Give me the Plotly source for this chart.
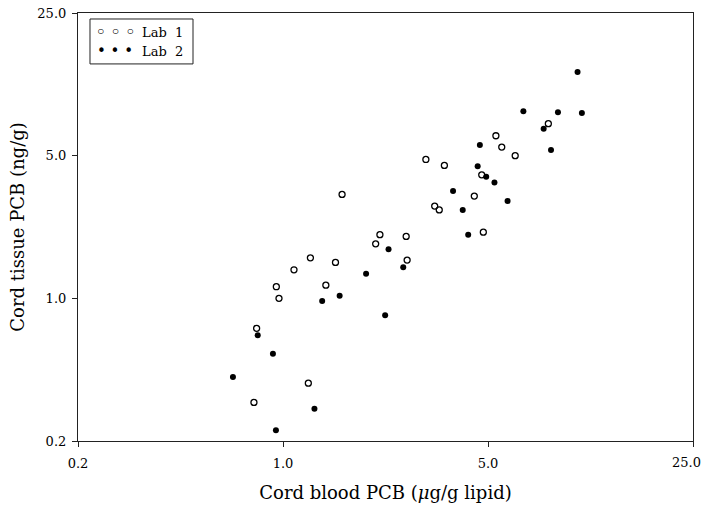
import math
import plotly.graph_objects as go

lab1_blood = [5.32, 5.57, 3.07, 3.55, 4.76, 1.59, 4.49, 3.29, 3.41, 4.82, 2.14, 2.63, 2.07,
              2.65, 1.24, 1.09, 1.51, 0.949, 1.40, 8.03, 6.19, 0.969, 0.813, 1.22, 0.796]
lab1_tissue = [6.26, 5.51, 4.79, 4.48, 4.03, 3.23, 3.17, 2.83, 2.71, 2.11, 2.05, 2.01, 1.85,
               1.54, 1.58, 1.38, 1.50, 1.14, 1.16, 7.17, 5.00, 1.00, 0.713, 0.384, 0.309]
lab2_blood = [4.69, 4.61, 4.93, 5.26, 3.80, 4.10, 4.28, 2.29, 2.57, 1.92, 10.1, 6.60, 8.66,
              10.45, 7.74, 8.20, 5.83, 1.36, 1.56, 2.23, 0.820, 0.924, 0.675, 1.28, 0.946]
lab2_tissue = [5.64, 4.44, 3.94, 3.69, 3.36, 2.71, 2.05, 1.74, 1.42, 1.32, 12.85, 8.25, 8.15,
               8.09, 6.78, 5.33, 3.00, 0.970, 1.03, 0.826, 0.659, 0.535, 0.412, 0.288, 0.226]

tick_vals = [0.2, 1.0, 5.0, 25.0]
tick_text = ["0.2", "1.0", "5.0", "25.0"]
legend_names = ["Lab 1", "Lab 2"]

FONT = "DejaVu Serif"

fig = go.Figure()
fig.add_trace(go.Scatter(x=lab1_blood, y=lab1_tissue, mode="markers", name=legend_names[0],
                         marker=dict(symbol="circle-open", size=6, color="black",
                                     line=dict(width=1.3, color="black")),
                         showlegend=False))
fig.add_trace(go.Scatter(x=lab2_blood, y=lab2_tissue, mode="markers", name=legend_names[1],
                         marker=dict(symbol="circle", size=6, color="black"),
                         showlegend=False))

axis_common = dict(type="log", tickvals=tick_vals, automargin=False,
                   showgrid=False, zeroline=False, showline=True, linecolor="#222",
                   linewidth=1.2, mirror=True, ticks="outside", ticklen=5, tickwidth=1,
                   tickcolor="#222",
                   tickfont=dict(family=FONT, size=13, color="black"))

# last x label is drawn as an annotation nudged left (as in the reference)
x_tick_text = tick_text[:-1] + [""]

rng = [-0.69898, 1.39795]
fig.update_xaxes(range=rng, ticklabelstandoff=5, ticktext=x_tick_text,
                 title=dict(text="Cord blood PCB (<i>μ</i>g/g lipid)",
                            font=dict(family=FONT, size=18, color="black"), standoff=16),
                 **axis_common)
fig.update_yaxes(range=rng, ticklabelstandoff=3, ticktext=tick_text,
                 title=dict(text="Cord tissue PCB (ng/g)",
                            font=dict(family=FONT, size=18, color="black"), standoff=8),
                 **axis_common)

fig.add_annotation(xref="x", yref="paper", x=math.log10(tick_vals[-1]), y=0, text=tick_text[-1],
                   showarrow=False, xanchor="right", yanchor="top", xshift=10, yshift=-12,
                   font=dict(family=FONT, size=13, color="black"))

# legend box
fig.add_shape(type="rect", xref="paper", yref="paper", x0=0.0195, x1=0.187, y0=0.881, y1=0.986,
              line=dict(color="#222", width=1), fillcolor="white")
for i, (sym, yy) in enumerate([("<b>◦ ◦ ◦</b>", 0.9556), ("• • •", 0.911)]):
    fig.add_annotation(xref="paper", yref="paper", x=0.0605, y=yy, text=sym, showarrow=False,
                       xanchor="center", yanchor="middle",
                       font=dict(family="DejaVu Sans", size=15, color="black"))
    fig.add_annotation(xref="paper", yref="paper", x=0.174, y=yy,
                       text=legend_names[i].replace(" ", "&nbsp;&nbsp;"),
                       showarrow=False, xanchor="right", yanchor="middle",
                       font=dict(family=FONT, size=13, color="black"))

fig.update_layout(width=704, height=508, margin=dict(l=78, r=11, t=13, b=67),
                  paper_bgcolor="white", plot_bgcolor="white")

fig.write_html("out.html", config={"displayModeBar": False},
               post_script="document.body.style.margin='0px';document.body.style.overflow='hidden';")
